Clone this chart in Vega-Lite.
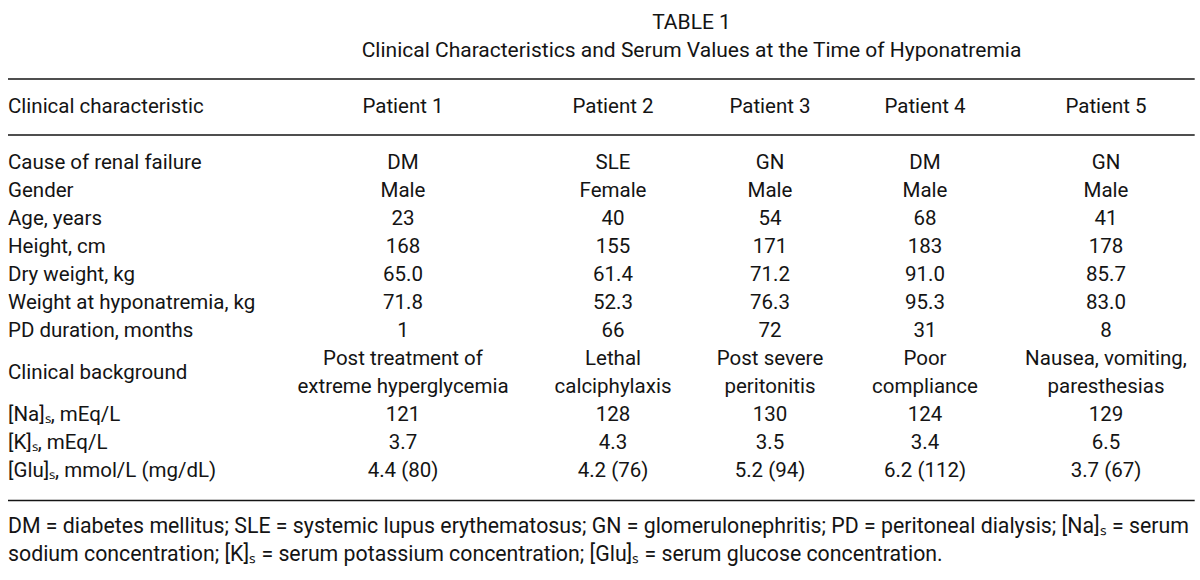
{
  "$schema": "https://vega.github.io/schema/vega-lite/v6.json",
  "width": 1200,
  "height": 580,
  "padding": 0,
  "autosize": {"type": "none"},
  "background": "white",
  "config": {
    "view": {"stroke": null},
    "text": {"font": "Roboto", "fontSize": 20.5, "color": "#141414"},
    "rule": {"color": "#141414", "strokeWidth": 1.5}
  },
  "datasets": {
    "one": [{}],
    "patients": [
      {"patient": 1, "name": "Patient 1"},
      {"patient": 2, "name": "Patient 2"},
      {"patient": 3, "name": "Patient 3"},
      {"patient": 4, "name": "Patient 4"},
      {"patient": 5, "name": "Patient 5"}
    ],
    "characteristics": [
      {"row": 1, "characteristic": "Cause of renal failure"},
      {"row": 2, "characteristic": "Gender"},
      {"row": 3, "characteristic": "Age, years"},
      {"row": 4, "characteristic": "Height, cm"},
      {"row": 5, "characteristic": "Dry weight, kg"},
      {"row": 6, "characteristic": "Weight at hyponatremia, kg"},
      {"row": 7, "characteristic": "PD duration, months"},
      {"row": 8, "characteristic": "Clinical background"},
      {"row": 9, "characteristic": "[Na]ₛ, mEq/L"},
      {"row": 10, "characteristic": "[K]ₛ, mEq/L"},
      {"row": 11, "characteristic": "[Glu]ₛ, mmol/L (mg/dL)"}
    ],
    "cells": [
      {"row": 1, "patient": 1, "value": "DM"},
      {"row": 1, "patient": 2, "value": "SLE"},
      {"row": 1, "patient": 3, "value": "GN"},
      {"row": 1, "patient": 4, "value": "DM"},
      {"row": 1, "patient": 5, "value": "GN"},
      {"row": 2, "patient": 1, "value": "Male"},
      {"row": 2, "patient": 2, "value": "Female"},
      {"row": 2, "patient": 3, "value": "Male"},
      {"row": 2, "patient": 4, "value": "Male"},
      {"row": 2, "patient": 5, "value": "Male"},
      {"row": 3, "patient": 1, "value": "23"},
      {"row": 3, "patient": 2, "value": "40"},
      {"row": 3, "patient": 3, "value": "54"},
      {"row": 3, "patient": 4, "value": "68"},
      {"row": 3, "patient": 5, "value": "41"},
      {"row": 4, "patient": 1, "value": "168"},
      {"row": 4, "patient": 2, "value": "155"},
      {"row": 4, "patient": 3, "value": "171"},
      {"row": 4, "patient": 4, "value": "183"},
      {"row": 4, "patient": 5, "value": "178"},
      {"row": 5, "patient": 1, "value": "65.0"},
      {"row": 5, "patient": 2, "value": "61.4"},
      {"row": 5, "patient": 3, "value": "71.2"},
      {"row": 5, "patient": 4, "value": "91.0"},
      {"row": 5, "patient": 5, "value": "85.7"},
      {"row": 6, "patient": 1, "value": "71.8"},
      {"row": 6, "patient": 2, "value": "52.3"},
      {"row": 6, "patient": 3, "value": "76.3"},
      {"row": 6, "patient": 4, "value": "95.3"},
      {"row": 6, "patient": 5, "value": "83.0"},
      {"row": 7, "patient": 1, "value": "1"},
      {"row": 7, "patient": 2, "value": "66"},
      {"row": 7, "patient": 3, "value": "72"},
      {"row": 7, "patient": 4, "value": "31"},
      {"row": 7, "patient": 5, "value": "8"},
      {"row": 8, "patient": 1, "value": "Post treatment of\nextreme hyperglycemia"},
      {"row": 8, "patient": 2, "value": "Lethal\ncalciphylaxis"},
      {"row": 8, "patient": 3, "value": "Post severe\nperitonitis"},
      {"row": 8, "patient": 4, "value": "Poor\ncompliance"},
      {"row": 8, "patient": 5, "value": "Nausea, vomiting,\nparesthesias"},
      {"row": 9, "patient": 1, "value": "121"},
      {"row": 9, "patient": 2, "value": "128"},
      {"row": 9, "patient": 3, "value": "130"},
      {"row": 9, "patient": 4, "value": "124"},
      {"row": 9, "patient": 5, "value": "129"},
      {"row": 10, "patient": 1, "value": "3.7"},
      {"row": 10, "patient": 2, "value": "4.3"},
      {"row": 10, "patient": 3, "value": "3.5"},
      {"row": 10, "patient": 4, "value": "3.4"},
      {"row": 10, "patient": 5, "value": "6.5"},
      {"row": 11, "patient": 1, "value": "4.4 (80)"},
      {"row": 11, "patient": 2, "value": "4.2 (76)"},
      {"row": 11, "patient": 3, "value": "5.2 (94)"},
      {"row": 11, "patient": 4, "value": "6.2 (112)"},
      {"row": 11, "patient": 5, "value": "3.7 (67)"}
    ]
  },
  "layer": [
    {
      "data": {"name": "one"},
      "mark": {"type": "text", "text": "TABLE 1", "align": "center", "baseline": "middle", "fontSize": 21}, 
      "encoding": {
        "x": {"datum": 2.5, "type": "quantitative", "scale": {"domain": [0, 1, 2, 3, 4, 5], "range": [8, 403, 613, 770, 925, 1106], "nice": false, "zero": false}, "axis": null},
        "y": {"datum": -4, "type": "quantitative", "scale": {"domain": [-4, 7, 8, 9, 14], "range": [23, 331, 373, 415, 555], "nice": false, "zero": false}, "axis": null}
      }
    },
    {
      "data": {"name": "one"},
      "mark": {"type": "text", "text": "Clinical Characteristics and Serum Values at the Time of Hyponatremia", "align": "center", "baseline": "middle", "fontSize": 21},
      "encoding": {
        "x": {"datum": 2.5, "type": "quantitative"},
        "y": {"datum": -3, "type": "quantitative"}
      }
    },
    {
      "data": {"name": "one"},
      "mark": {"type": "rule"},
      "encoding": {
        "x": {"datum": 0, "type": "quantitative"},
        "x2": {"datum": 5.49},
        "y": {"datum": -2, "type": "quantitative"}
      }
    },
    {
      "data": {"name": "one"},
      "mark": {"type": "rule"},
      "encoding": {
        "x": {"datum": 0, "type": "quantitative"},
        "x2": {"datum": 5.49},
        "y": {"datum": 0, "type": "quantitative"}
      }
    },
    {
      "data": {"name": "one"},
      "mark": {"type": "rule"},
      "encoding": {
        "x": {"datum": 0, "type": "quantitative"},
        "x2": {"datum": 5.49},
        "y": {"datum": 12.05, "type": "quantitative"}
      }
    },
    {
      "data": {"name": "one"},
      "mark": {"type": "text", "text": "Clinical characteristic", "align": "left", "baseline": "middle"},
      "encoding": {
        "x": {"datum": 0, "type": "quantitative"},
        "y": {"datum": -1, "type": "quantitative"}
      }
    },
    {
      "data": {"name": "patients"},
      "mark": {"type": "text", "align": "center", "baseline": "middle"},
      "encoding": {
        "x": {"field": "patient", "type": "quantitative"},
        "y": {"datum": -1, "type": "quantitative"},
        "text": {"field": "name"}
      }
    },
    {
      "data": {"name": "characteristics"},
      "mark": {"type": "text", "align": "left", "baseline": "middle"},
      "encoding": {
        "x": {"datum": 0, "type": "quantitative"},
        "y": {"field": "row", "type": "quantitative"},
        "text": {"field": "characteristic"}
      }
    },
    {
      "data": {"name": "cells"},
      "transform": [{"filter": "datum.row != 8"}],
      "mark": {"type": "text", "align": "center", "baseline": "middle"},
      "encoding": {
        "x": {"field": "patient", "type": "quantitative"},
        "y": {"field": "row", "type": "quantitative"},
        "text": {"field": "value"}
      }
    },
    {
      "data": {"name": "cells"},
      "transform": [{"filter": "datum.row == 8"}],
      "mark": {"type": "text", "align": "center", "baseline": "middle", "lineBreak": "\n", "lineHeight": 28, "dy": -14},
      "encoding": {
        "x": {"field": "patient", "type": "quantitative"},
        "y": {"field": "row", "type": "quantitative"},
        "text": {"field": "value"}
      }
    },
    {
      "data": {"name": "one"},
      "mark": {"type": "text", "text": "DM = diabetes mellitus; SLE = systemic lupus erythematosus; GN = glomerulonephritis; PD = peritoneal dialysis; [Na]ₛ = serum", "align": "left", "baseline": "middle", "fontSize": 21.3},
      "encoding": {
        "x": {"datum": 0, "type": "quantitative"},
        "y": {"datum": 13, "type": "quantitative"}
      }
    },
    {
      "data": {"name": "one"},
      "mark": {"type": "text", "text": "sodium concentration; [K]ₛ = serum potassium concentration; [Glu]ₛ = serum glucose concentration.", "align": "left", "baseline": "middle", "fontSize": 21.3},
      "encoding": {
        "x": {"datum": 0, "type": "quantitative"},
        "y": {"datum": 14, "type": "quantitative"}
      }
    }
  ]
}
